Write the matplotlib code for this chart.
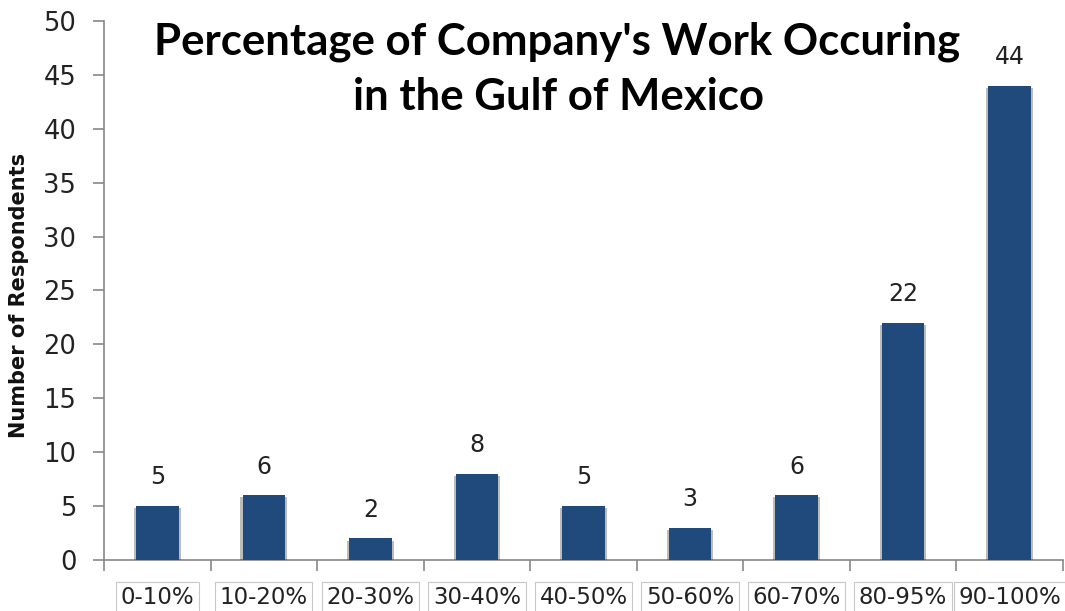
import matplotlib
matplotlib.use("Agg")
import matplotlib.pyplot as plt
import matplotlib.patheffects as pe
import numpy as np

categories = ["0-10%", "10-20%", "20-30%", "30-40%", "40-50%", "50-60%", "60-70%", "80-95%", "90-100%"]
values = [5, 6, 2, 8, 5, 3, 6, 22, 44]
yticks = [0, 5, 10, 15, 20, 25, 30, 35, 40, 45, 50]
title_lines = ["Percentage of Company's Work Occuring", "in the Gulf of Mexico"]
ylabel = "Number of Respondents"

plt.rcParams['font.family'] = ['DejaVu Sans']

fig = plt.figure(figsize=(10.65, 6.11), dpi=100)
ax = fig.add_axes([0.0977, 0.0835, 0.9003, 0.8821])

x = np.arange(len(categories))
bars = ax.bar(x, values, width=0.4, color="#214A7C", zorder=3)
for b in bars:
    b.set_path_effects([
        pe.SimplePatchShadow(offset=(-1.5, -1.5), shadow_rgbFace="#222222", alpha=0.3),
        pe.SimplePatchShadow(offset=(1.5, -1.5), shadow_rgbFace="#222222", alpha=0.3),
        pe.Normal()])

for xi, v in zip(x, values):
    ax.annotate(str(v), (xi, v), xytext=(0, 12), textcoords="offset points",
                ha="center", va="bottom", fontsize=17, color="#222222")

ax.set_xlim(-0.5, len(categories) - 0.5)
ax.set_ylim(0, 50)
ax.set_yticks(yticks)
ax.set_yticklabels([str(t) for t in yticks], fontsize=18.5, color="#222222")

ax.set_xticks(x)
ax.set_xticklabels(categories, fontsize=16.5, color="#222222")
for lab in ax.get_xticklabels():
    lab.set_bbox(dict(facecolor="white", edgecolor="#c8c8c8", linewidth=0.8, boxstyle="square,pad=0.2"))
ax.set_xticks(np.arange(-0.5, len(categories), 1.0), minor=True)
ax.tick_params(axis="x", which="major", length=0, pad=19)
ax.tick_params(axis="x", which="minor", length=8, color="#888888", width=1.2, direction="out")
ax.tick_params(axis="y", length=8, color="#888888", width=1.2, direction="out", pad=12)

for s in ["top", "right"]:
    ax.spines[s].set_visible(False)
for s in ["left", "bottom"]:
    ax.spines[s].set_color("#888888")
    ax.spines[s].set_linewidth(1.2)

ax.set_ylabel(ylabel, fontsize=15, fontweight="bold", color="#111111")
ax.yaxis.set_label_coords(-0.078, 0.49)

fig.text(0.523, 1 - 54 / 611, title_lines[0], ha="center", va="baseline", fontsize=31.5,
         fontweight="bold", color="#000000", family=["Lato", "DejaVu Sans"])
fig.text(0.524, 1 - 110 / 611, title_lines[1], ha="center", va="baseline", fontsize=31.5,
         fontweight="bold", color="#000000", family=["Lato", "DejaVu Sans"])

fig.savefig("out.png", dpi=100)
